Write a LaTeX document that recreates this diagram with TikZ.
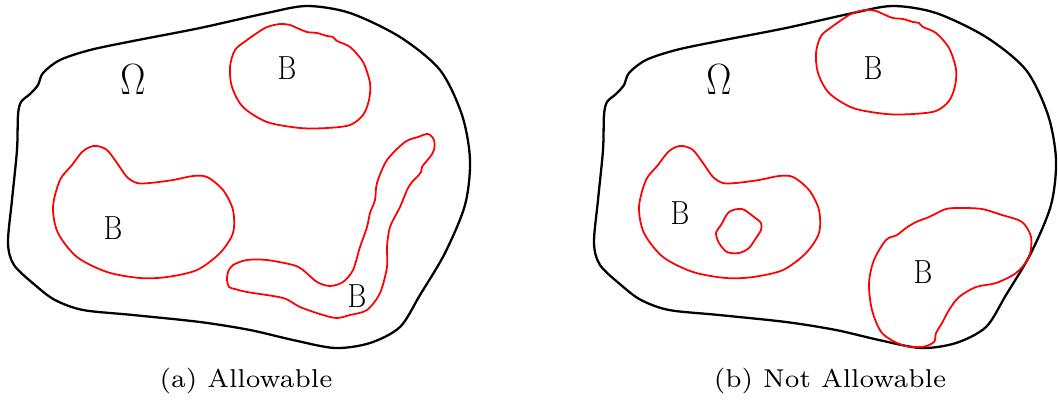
\documentclass[tikz,border=0pt]{standalone}
\tikzset{
  omega/.style={black, line width=1.3pt},
  blob/.style={red, line width=1.0pt},
  letter/.style={font=\fontsize{19}{22}\selectfont, xscale=0.86, inner sep=0pt},
  caption/.style={font=\fontsize{7}{8}\selectfont, scale=2.1, inner sep=0pt}
}
\begin{document}
\begin{tikzpicture}[x=0.02cm, y=-0.02cm]
\useasboundingbox (0,0) rectangle (1058,400);
% domain outline, drawn twice
\foreach \shift in {0,586} {
\draw[omega, xshift=\shift*0.02cm] plot[smooth cycle] coordinates {
(38,85) (43,73) (60,60) (90,50) (133,41) (200,28) (267,13) (307,6)
(350,13) (400,37) (440,70) (462,115) (470,160) (465,205) (445,253)
(420,295) (400,327) (370,343) (335,348) (293,340) (250,330) (200,322)
(133,315) (83,310) (55,300) (35,285) (14,265) (8,243) (12,200)
(17,150) (18,115) (21,102) (30,94)
};
% kidney shaped inclusion
\draw[blob, xshift=\shift*0.02cm] plot[smooth cycle] coordinates {
(97,146) (107,150) (117,163) (127,177) (137,183) (150,183) (173,180)
(193,176) (207,177) (223,190) (233,210) (233,233) (220,253) (197,270)
(167,277) (140,278) (107,272) (77,257) (58,233) (53,207) (60,180)
(72,165) (82,152) (90,147)
};
}
% (a) top inclusion
\draw[blob] plot[smooth cycle] coordinates {
(247,40) (257,33) (267,27) (280,24) (290,25) (297,28) (307,32) (317,33)
(327,36) (333,37) (337,41) (350,47) (363,62) (370,83) (369,100)
(363,115) (350,125) (327,128) (300,128) (267,122) (243,107) (232,87)
(230,67) (235,50)
};
% (a) long bent inclusion
\draw[blob] plot[smooth cycle] coordinates {
(418,137) (428,134) (434,140) (434,150) (430,157) (425,163) (422,167)
(421,172) (417,177) (412,182)
(407,190) (400,207) (390,227) (387,247) (387,267) (380,293) (367,310)
(350,315) (337,318) (323,315) (300,307) (283,298) (247,292) (235,289)
(229,287) (227,280) (228,272) (233,265) (247,260) (267,260) (293,265) (303,270)
(317,282) (330,286) (343,282) (353,270) (360,247) (367,227) (370,213)
(375,200) (377,183) (387,160) (405,142)
};
% (b) top inclusion, touching the outline
\draw[blob, xshift=586*0.02cm, yshift=14*0.02cm] plot[smooth cycle] coordinates {
(247,40) (257,33) (267,27) (280,24) (290,25) (297,28) (307,32) (317,33)
(327,36) (333,37) (337,41) (350,47) (363,62) (370,83) (369,100)
(363,115) (350,125) (327,128) (300,128) (267,122) (243,107) (232,87)
(230,67) (235,50)
};
% (b) hole inside the kidney
\draw[blob] plot[smooth cycle] coordinates {
(729,212) (742,209) (754,217) (761,223) (761,230) (756,238) (749,248)
(739,253) (727,252) (719,243) (716,233) (721,225)
};
% (b) inclusion crossing the outline
\draw[blob] plot[smooth cycle] coordinates {
(897,235) (906,228) (916,222) (929,217) (946,209) (962,208) (982,209)
(1002,215) (1022,222) (1031,237) (1029,257) (1016,273) (996,283)
(976,287) (959,297) (949,310) (942,323) (936,333) (934,342) (922,347)
(902,345) (882,333) (872,310) (869,283) (874,260) (886,240)
};
% labels
\node[inner sep=0pt, xscale=0.86, font=\fontsize{25}{28}\selectfont] (omegaA) at (133,80) {$\Omega$};
\node[inner sep=0pt, xscale=0.86, font=\fontsize{25}{28}\selectfont] (omegaB) at (719,80) {$\Omega$};
\node[letter] (bTopA) at (287,68) {B};
\node[letter] (bKidA) at (113,228) {B};
\node[letter] (bBentA) at (357,296) {B};
\node[letter] (bTopB) at (873,68) {B};
\node[letter] (bKidB) at (680,213) {B};
\node[letter] (bCrossB) at (923,272) {B};
\node[caption] (capA) at (246,381) {(a) Allowable};
\node[caption] (capB) at (830,381) {(b) Not Allowable};
\end{tikzpicture}
\end{document}
